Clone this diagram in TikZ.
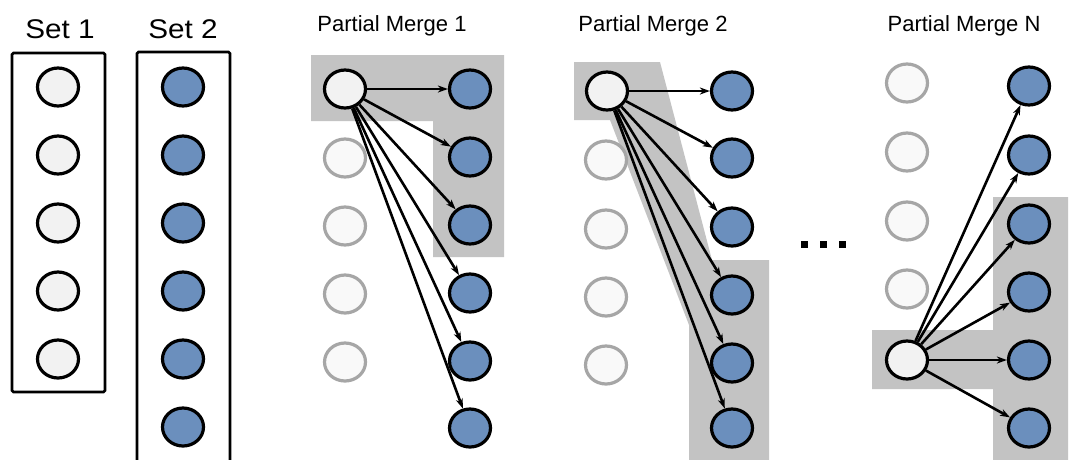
\documentclass[tikz,border=0pt]{standalone}
\usepackage{fontspec}
\setmainfont{Liberation Sans}
\usetikzlibrary{shapes.geometric,arrows.meta}
\definecolor{blueF}{HTML}{6B8FBD}
\definecolor{lightF}{HTML}{F2F2F2}
\definecolor{fadeF}{HTML}{F9F9F9}
\definecolor{fadeD}{HTML}{A6A6A6}
\definecolor{regionF}{HTML}{C3C3C3}
\tikzset{
  dot/.style={ellipse,minimum width=41pt,minimum height=38pt,inner sep=0pt,line width=3.2pt},
  src/.style={dot,draw=black,fill=lightF},
  dst/.style={dot,draw=black,fill=blueF},
  fade/.style={dot,draw=fadeD,fill=fadeF},
  setbox/.style={draw=black,line width=2.6pt,rounded corners=1.5pt},
  region/.style={fill=regionF,draw=none},
  arr/.style={line width=2.6pt,-{Stealth[length=10pt,width=7pt,inset=3pt]}},
  title/.style={font=\fontsize{22}{26}\selectfont,anchor=base},
  settitle/.style={font=\fontsize{27}{30}\selectfont,anchor=base,xscale=1.1}
}
\begin{document}
\begin{tikzpicture}[x=1pt,y=-1pt]
\useasboundingbox (0,0) rectangle (1070,459);
\clip (0,0) rectangle (1070,459);
% titles
\node[settitle] (t1) at (60,38) {Set 1};
\node[settitle] (t2) at (183,38) {Set 2};
\node[title] (tp1) at (392,31) {Partial Merge 1};
\node[title] (tp2) at (653,31) {Partial Merge 2};
\node[title] (tpn) at (964,31) {Partial Merge N};
% set boxes
\draw[setbox] (12,53) rectangle (105,392);
\draw[setbox] (137,470) -- (137,52) -- (230,52) -- (230,470);
\foreach \i/\y in {1/87,2/155,3/223,4/291,5/359}{
  \node[src] (a\i) at (58,\y) {};
}
\foreach \i/\y in {1/87,2/155,3/223,4/291,5/359,6/427}{
  \node[dst] (b\i) at (183,\y) {};
}
% Partial Merge 1
\fill[region] (311,55) -- (504,55) -- (504,257) -- (433,257) -- (433,121) -- (311,121) -- cycle;
\node[src] (p1s) at (345,89) {};
\foreach \i/\y in {2/158,3/226,4/294,5/362}{
  \node[fade] (p1a\i) at (345,\y) {};
}
\foreach \i/\y in {1/89,2/157,3/225,4/293,5/361,6/428}{
  \node[dst] (p1b\i) at (470,\y) {};
  \draw[arr] (p1s) -- (p1b\i);
}
% Partial Merge 2
\fill[region] (574,62) -- (660,62) -- (712,260) -- (769,260) -- (769,470) -- (689,470) -- (689,325) -- (610,120) -- (574,120) -- cycle;
\node[src] (p2s) at (607,91) {};
\foreach \i/\y in {2/160,3/229,4/297,5/365}{
  \node[fade] (p2a\i) at (606,\y) {};
}
\foreach \i/\y in {1/91,2/158,3/227,4/295,5/363,6/428}{
  \node[dst] (p2b\i) at (732,\y) {};
  \draw[arr] (p2s) -- (p2b\i);
}
% dots
\foreach \x/\n in {804/d1,823/d2,842/d3}{
  \fill (\x-3.5,240.5) rectangle (\x+3.5,247.5);
}
% Partial Merge N
\fill[region] (872,330) -- (993,330) -- (993,197) -- (1068,197) -- (1068,470) -- (993,470) -- (993,389) -- (872,389) -- cycle;
\foreach \i/\y in {1/83,2/152,3/221,4/289}{
  \node[fade] (pna\i) at (907,\y) {};
}
\node[src] (pns) at (907,360) {};
\foreach \i/\y in {1/86,2/155,3/224,4/292,5/360,6/428}{
  \node[dst] (pnb\i) at (1029,\y) {};
  \draw[arr] (pns) -- (pnb\i);
}
\end{tikzpicture}
\end{document}
